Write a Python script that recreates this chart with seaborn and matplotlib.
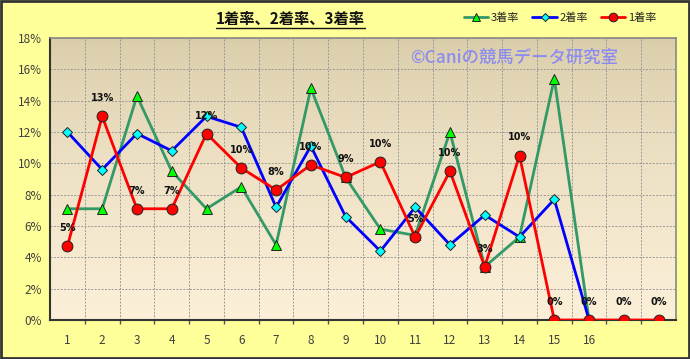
import numpy as np
import pandas as pd
import matplotlib
matplotlib.use("Agg")
import matplotlib.pyplot as plt
import seaborn as sns
from matplotlib.lines import Line2D
from matplotlib.patches import Rectangle

# ---- data (percent) ----
categories = list(range(1, 19))
tick_labels = [str(i) for i in range(1, 17)] + ["", ""]
rate3 = [7.1, 7.1, 14.3, 9.5, 7.1, 8.5, 4.8, 14.8, 9.1, 5.8, 5.4, 12.0, 3.4, 5.3, 15.4, 0.0, np.nan, np.nan]
rate2 = [12.0, 9.6, 11.9, 10.8, 13.0, 12.3, 7.2, 11.1, 6.6, 4.4, 7.2, 4.8, 6.7, 5.3, 7.7, 0.0, np.nan, np.nan]
rate1 = [4.7, 13.0, 7.1, 7.1, 11.9, 9.7, 8.3, 9.9, 9.1, 10.1, 5.3, 9.5, 3.4, 10.5, 0.0, 0.0, 0.0, 0.0]
series_names = ["3着率", "2着率", "1着率"]
title_text = "1着率、2着率、3着率"
watermark = "©Caniの競馬データ研究室"

sns.set_theme(style="white")
plt.rcParams['font.family'] = ['Noto Sans CJK JP', 'DejaVu Sans']

fig = plt.figure(figsize=(6.9, 3.59), dpi=100)
fig.patch.set_facecolor("#FFFF99")
ax = fig.add_axes([50/690, 1-320/359, 626/690, 282/359])

# gradient background
grad = np.linspace(0, 1, 256).reshape(-1, 1) ** 0.7
top = np.array([0.85, 0.80, 0.66])
bot = np.array([0.99, 0.94, 0.85])
img = top[None, None, :] * (1 - grad[:, :, None]) + bot[None, None, :] * grad[:, :, None]
ax.imshow(img, extent=[0, 1, 0, 1], transform=ax.transAxes, aspect='auto', zorder=0)

df = pd.DataFrame({"x": categories, "r3": rate3, "r2": rate2, "r1": rate1})

sns.lineplot(data=df, x="x", y="r3", ax=ax, color="#339966", linewidth=2.0,
             marker="^", markersize=6.5, markerfacecolor="#00FF00", markeredgecolor="#222222",
             markeredgewidth=0.7, label=series_names[0], zorder=3)
sns.lineplot(data=df, x="x", y="r2", ax=ax, color="#0000FF", linewidth=2.0,
             marker="D", markersize=5, markerfacecolor="#00FFFF", markeredgecolor="#222222",
             markeredgewidth=0.7, label=series_names[1], zorder=4)
sns.lineplot(data=df, x="x", y="r1", ax=ax, color="#FF0000", linewidth=2.0,
             marker="o", markersize=7.8, markerfacecolor="#FF0000", markeredgecolor="#222222",
             markeredgewidth=0.7, label=series_names[2], zorder=5)

for x, v in zip(categories, rate1):
    ax.annotate(f"{int(round(v))}%", (x, v), xytext=(0, 13), textcoords="offset points",
                ha="center", va="center", fontsize=7, fontweight="bold", color="#111111",
                family="DejaVu Sans", zorder=6)

ax.set_xlim(0.5, 18.5)
ax.set_ylim(0, 18)
ax.set_xticks(categories)
ax.set_xticklabels(tick_labels)
ax.set_xticks(np.arange(1.5, 18.5, 1), minor=True)
ax.set_yticks(np.arange(0, 19, 2))
ax.set_yticklabels([f"{v}%" for v in range(0, 19, 2)])
ax.tick_params(axis="both", which="major", length=0, labelsize=8.5, colors="#404040", pad=6)
ax.tick_params(axis="x", which="major", pad=10)
ax.tick_params(axis="x", which="minor", length=3, color="#555555", bottom=True)
ax.grid(True, axis="x", which="minor", color="#999999", linestyle=(0, (2, 1.5)), linewidth=0.7, zorder=1)
ax.grid(True, axis="y", which="major", color="#999999", linestyle=(0, (2, 1.5)), linewidth=0.7, zorder=1)
ax.grid(False, axis="x", which="major")
ax.set_axisbelow(True)
ax.set_xlabel("")
ax.set_ylabel("")
for s in ["top", "right"]:
    ax.spines[s].set_color("#888888")
    ax.spines[s].set_linewidth(1.2)
for s in ["left", "bottom"]:
    ax.spines[s].set_color("#333333")
    ax.spines[s].set_linewidth(1.5)

ax.text(0.575, 0.93, watermark, transform=ax.transAxes, fontsize=12.5, color="#8C8CF0",
        ha="left", va="center", fontweight="medium", zorder=2)

# legend
h, l = ax.get_legend_handles_labels()
leg = fig.legend(h, l, loc="center", bbox_to_anchor=(560/690, 1-18/359), ncol=3, frameon=False,
                 fontsize=8, handlelength=2.2, handletextpad=0.2, columnspacing=1.2,
                 markerscale=0.8)
for t in leg.get_texts():
    t.set_color("#222222")
if ax.get_legend():
    ax.get_legend().remove()

# title with underline
ttl = fig.text(290/690, 1-19/359, title_text, ha="center", va="center", fontsize=11,
               fontweight="bold", color="#111111")
fig.canvas.draw()
bb = ttl.get_window_extent().transformed(fig.transFigure.inverted())
fig.add_artist(Line2D([bb.x0, bb.x1], [bb.y0 - 0.004, bb.y0 - 0.004], transform=fig.transFigure,
                      color="#111111", linewidth=1.0))

# figure border
fig.add_artist(Rectangle((0.001, 0.002), 0.997, 0.995, transform=fig.transFigure, fill=False,
                         edgecolor="#333333", linewidth=2))

fig.savefig("out.png", dpi=100, facecolor=fig.get_facecolor())
